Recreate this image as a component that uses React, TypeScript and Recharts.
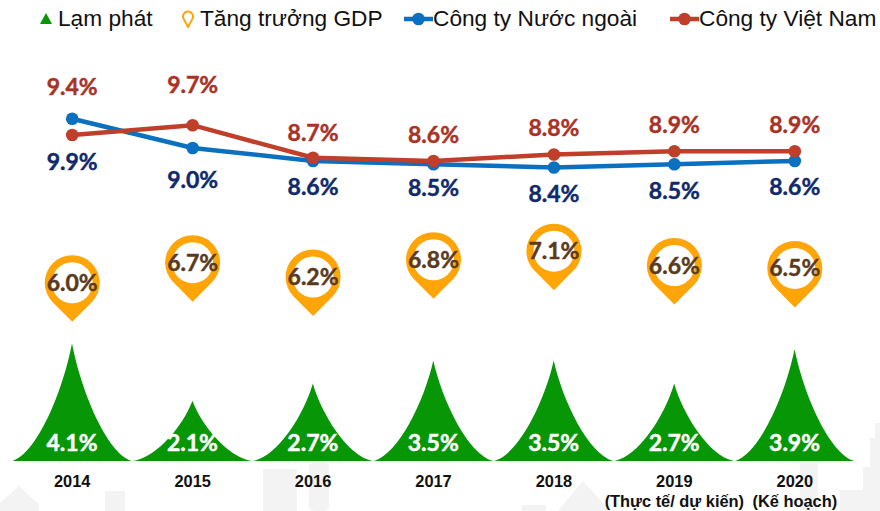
import { Bar, ComposedChart, LabelList, Legend, Line, XAxis, YAxis } from "recharts"

const years = ["2014", "2015", "2016", "2017", "2018", "2019", "2020"]
const yearNotes = ["", "", "", "", "", "(Thực tế/ dự kiến)", "(Kế hoạch)"]
const inflation = [4.1, 2.1, 2.7, 3.5, 3.5, 2.7, 3.9]
const gdpGrowth = [6.0, 6.7, 6.2, 6.8, 7.1, 6.6, 6.5]
const foreignFirms = [9.9, 9.0, 8.6, 8.5, 8.4, 8.5, 8.6]
const vietnamFirms = [9.4, 9.7, 8.7, 8.6, 8.8, 8.9, 8.9]

const chartData = years.map((year, i) => ({
  year,
  note: yearNotes[i],
  inflation: inflation[i],
  gdp: gdpGrowth[i],
  foreign: foreignFirms[i],
  vietnam: vietnamFirms[i],
}))

const GREEN = "#069606"
const ORANGE = "#FFA508"
const BLUE = "#0B70BF"
const RED = "#BF3F2B"
const LABEL_FONT = "Lato, sans-serif"
const LEGEND_FONT = "'Liberation Sans', Arial, sans-serif"

// label distance from the point, the first two years sit further out
const foreignLabelGap = [43, 32, 26, 24, 27, 27, 26]
const vietnamLabelGap = [48, 40, 25, 26, 26, 26, 26]

const pct = (v: number) => `${v.toFixed(1)}%`

function PeakBar({ x, y, width, height }: any) {
  const half = (width - 1) / 2
  const mid = x + width / 2
  const bottom = y + height
  const left = mid - half
  const right = mid + half
  return (
    <path
      fill={GREEN}
      d={`M${left},${bottom}C${left + half * 0.42},${bottom - height * 0.07} ${left + half * 0.85},${bottom - height * 0.6} ${mid},${y}
      C${right - half * 0.85},${bottom - height * 0.6} ${right - half * 0.42},${bottom - height * 0.07} ${right},${bottom}Z`}
    />
  )
}

function pinPath(cx: number, cy: number, r: number, tip: number) {
  const a = Math.acos(r / tip)
  const dx = r * Math.sin(a)
  const dy = r * Math.cos(a)
  return `M${cx},${cy + tip}L${cx - dx},${cy + dy}A${r},${r} 0 1 1 ${cx + dx},${cy + dy}Z`
}

function PinDot({ cx, cy, index }: any) {
  const top = cy - 6
  return (
    <g key={index}>
      <path d={pinPath(cx, top, 27.5, 39)} fill={ORANGE} />
      <circle cx={cx} cy={top} r={20.5} fill="#fff" />
    </g>
  )
}

function YearTick({ x, y, payload, index }: any) {
  return (
    <g>
      <text x={x} y={y + 18} textAnchor="middle" fontFamily={LEGEND_FONT} fontWeight={700} fontSize={16.4} fill="#111">
        {payload.value}
      </text>
      <text x={x} y={y + 38} textAnchor="middle" fontFamily={LEGEND_FONT} fontWeight={700} fontSize={16.4} fill="#111">
        {yearNotes[index]}
      </text>
    </g>
  )
}

function ValueText({ x, y, fill, children }: any) {
  return (
    <text
      x={x}
      y={y}
      textAnchor="middle"
      fill={fill}
      stroke={fill}
      strokeWidth={0.45}
      fontFamily={LABEL_FONT}
      fontWeight={700}
      fontSize={23}
    >
      {children}
    </text>
  )
}

const legendLefts = [40, 181, 404, 670]
const legendKinds = ["triangle", "pin", "blue", "red"]

function LegendIcon({ kind }: { kind: string }) {
  if (kind === "triangle") {
    return (
      <svg width={12} height={12} style={{ display: "block" }}>
        <path d="M6,0L12,11H0Z" fill={GREEN} />
      </svg>
    )
  }
  if (kind === "pin") {
    return (
      <svg width={14} height={18} style={{ display: "block" }}>
        <path d={pinPath(7, 6.5, 5, 10.5)} fill="none" stroke={ORANGE} strokeWidth={2} />
      </svg>
    )
  }
  const color = kind === "blue" ? BLUE : RED
  return (
    <svg width={29} height={14} style={{ display: "block" }}>
      <line x1={0} y1={7} x2={29} y2={7} stroke={color} strokeWidth={4.5} />
      <circle cx={14.5} cy={7} r={6.3} fill={color} />
    </svg>
  )
}

function LegendRow({ payload }: any) {
  return (
    <div style={{ position: "relative", height: 0 }}>
      {(payload || []).map((item: any, i: number) => (
        <div
          key={item.value}
          style={{
            position: "absolute",
            left: legendLefts[i],
            top: 0,
            display: "flex",
            alignItems: "center",
            gap: i === 0 ? 6 : i === 1 ? 5 : 0,
            whiteSpace: "nowrap",
            fontFamily: LEGEND_FONT,
            fontSize: 22.7,
            color: "#111",
          }}
        >
          <LegendIcon kind={legendKinds[i]} />
          <span>{item.value}</span>
        </div>
      ))}
    </div>
  )
}

function Backdrop() {
  return (
    <svg width={880} height={511} style={{ position: "absolute", left: 0, top: 0 }}>
      <g fill="#F3F3F3">
        <path d="M0,503L19,486L39,505V511H0Z" />
        <rect x={105} y={491} width={20} height={20} />
        <rect x={263} y={469} width={34} height={42} />
        <rect x={309} y={462} width={20} height={49} rx={5} />
        <path d="M558,511L583,481L610,511Z" />
        <rect x={522} y={505} width={24} height={6} />
        <rect x={800} y={463} width={18} height={48} />
        <path d="M840,511V490H863V467H870V438H875V423H880V511Z" />
      </g>
    </svg>
  )
}

export default function App() {
  return (
    <div style={{ position: "absolute", left: 0, top: 0, width: 880, height: 511, background: "#fff" }}>
      <Backdrop />
      <div style={{ position: "absolute", left: 0, top: 0 }}>
        <ComposedChart
          width={880}
          height={511}
          data={chartData}
          barCategoryGap={0}
          margin={{ top: 41, right: 25, bottom: 0, left: 12 }}
        >
          <XAxis dataKey="year" axisLine={false} tickLine={false} height={50} tick={<YearTick />} interval={0} />
          <YAxis yAxisId="low" hide domain={[0, 14.63]} />
          <YAxis yAxisId="high" hide domain={[-0.63, 12.29]} />
          <Legend
            verticalAlign="top"
            align="left"
            itemSorter={null}
            wrapperStyle={{ left: 0, top: 5, width: 880 }}
            content={<LegendRow />}
          />
          <Bar yAxisId="low" dataKey="inflation" name="Lạm phát" shape={<PeakBar />} isAnimationActive={false}>
            <LabelList
              dataKey="inflation"
              content={(p: any) => (
                <ValueText x={p.x + p.width / 2} y={p.y + p.height - 10} fill="#fff">
                  {pct(p.value)}
                </ValueText>
              )}
            />
          </Bar>
          <Line
            yAxisId="low"
            dataKey="gdp"
            name="Tăng trưởng GDP"
            stroke="none"
            dot={<PinDot />}
            activeDot={false}
            isAnimationActive={false}
          >
            <LabelList
              dataKey="gdp"
              content={(p: any) => (
                <ValueText x={p.x} y={p.y + 2} fill="#5A3A1C">
                  {pct(p.value)}
                </ValueText>
              )}
            />
          </Line>
          <Line
            yAxisId="high"
            dataKey="foreign"
            name="Công ty Nước ngoài"
            stroke={BLUE}
            strokeWidth={4.5}
            dot={{ r: 6.3, fill: BLUE, stroke: BLUE, strokeWidth: 0 }}
            isAnimationActive={false}
          >
            <LabelList
              dataKey="foreign"
              content={(p: any) => (
                <ValueText x={p.x} y={p.y + foreignLabelGap[p.index] + 8} fill="#10296B">
                  {pct(p.value)}
                </ValueText>
              )}
            />
          </Line>
          <Line
            yAxisId="high"
            dataKey="vietnam"
            name="Công ty Việt Nam"
            stroke={RED}
            strokeWidth={4.5}
            dot={{ r: 6.3, fill: RED, stroke: RED, strokeWidth: 0 }}
            isAnimationActive={false}
          >
            <LabelList
              dataKey="vietnam"
              content={(p: any) => (
                <ValueText x={p.x} y={p.y - vietnamLabelGap[p.index] + 8} fill="#A93226">
                  {pct(p.value)}
                </ValueText>
              )}
            />
          </Line>
        </ComposedChart>
      </div>
    </div>
  )
}
